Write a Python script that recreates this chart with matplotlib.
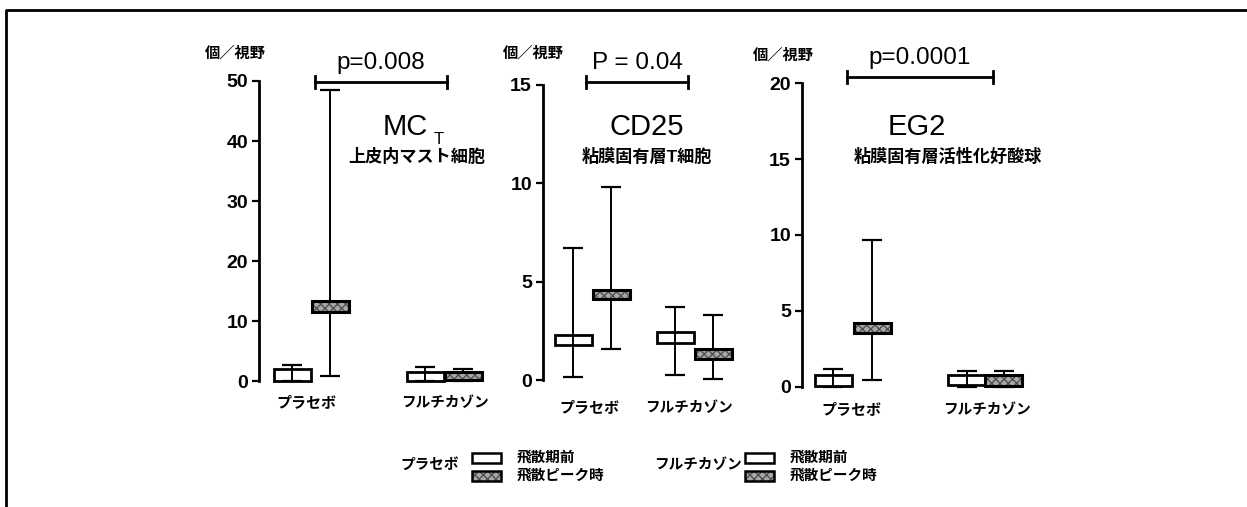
import matplotlib
matplotlib.use("Agg")
import matplotlib.pyplot as plt
from matplotlib.patches import Rectangle

plt.rcParams['font.family'] = ['Liberation Sans', 'Noto Sans CJK JP', 'DejaVu Sans']

# data: order = placebo pre, placebo peak, fluticasone pre, fluticasone peak
groups = ['プラセボ', 'フルチカゾン']
periods = ['飛散期前', '飛散ピーク時']

mct_lo = [0.0, 0.8, 0.0, 0.0]
mct_q1 = [0.0, 11.5, 0.0, 0.1]
mct_q3 = [2.0, 13.3, 1.5, 1.5]
mct_hi = [2.6, 48.5, 2.3, 2.0]

cd25_lo = [0.15, 1.6, 0.25, 0.05]
cd25_q1 = [1.8, 4.1, 1.9, 1.05]
cd25_q3 = [2.3, 4.6, 2.45, 1.6]
cd25_hi = [6.7, 9.8, 3.7, 3.3]

eg2_lo = [0.0, 0.45, 0.0, 0.0]
eg2_q1 = [0.05, 3.55, 0.1, 0.05]
eg2_q3 = [0.8, 4.2, 0.8, 0.75]
eg2_hi = [1.2, 9.7, 1.05, 1.05]

titles = ['MC', 'CD25', 'EG2']
subtitles = ['上皮内マスト細胞', '粘膜固有層T細胞', '粘膜固有層活性化好酸球']
pvalues = ['p=0.008', 'P = 0.04', 'p=0.0001']
yunit = '個／視野'

W, H = 1247, 507
fig = plt.figure(figsize=(W / 100, H / 100), dpi=100)

# overlay in pixel coords for frame, labels, legend
ov = fig.add_axes([0, 0, 1, 1])
ov.set_xlim(0, W)
ov.set_ylim(H, 0)
ov.axis('off')
ov.plot([6, 6, W], [H, 10, 10], color='black', lw=2)


def px_axes(left, top, width, bottom):
    return fig.add_axes([left / W, (H - bottom) / H, width / W, (bottom - top) / H])


def draw_box(ax, x, lo, q1, q3, hi, filled):
    bw, cw = 37, 20
    ax.vlines(x, lo, hi, color='black', lw=1.4, zorder=2)
    ax.hlines([lo, hi], x - cw / 2, x + cw / 2, color='black', lw=1.6, zorder=2)
    if filled:
        ax.add_patch(Rectangle((x - bw / 2, q1), bw, q3 - q1, facecolor='#a8a8a8',
                               edgecolor='#505050', hatch='xxxx', lw=0, zorder=3))
        ax.add_patch(Rectangle((x - bw / 2, q1), bw, q3 - q1, facecolor='none',
                               edgecolor='black', lw=2.2, zorder=4))
    else:
        ax.add_patch(Rectangle((x - bw / 2, q1), bw, q3 - q1, facecolor='none',
                               edgecolor='black', lw=2.0, zorder=4))


# (spine x, top px, width px, bottom px, ylim, ticks, box offsets, data)
panels = [
    (259, 78, 241, 393, (-2, 50.5), [0, 10, 20, 30, 40, 50], [33, 71, 166, 204],
     (mct_lo, mct_q1, mct_q3, mct_hi)),
    (543, 81, 210, 390, (-0.5, 15.2), [0, 5, 10, 15], [30, 68, 132, 170],
     (cd25_lo, cd25_q1, cd25_q3, cd25_hi)),
    (802, 80, 260, 396, (-0.6, 20.2), [0, 5, 10, 15, 20], [31, 70, 165, 202],
     (eg2_lo, eg2_q1, eg2_q3, eg2_hi)),
]

for left, top, width, bottom, ylim, ticks, offs, data in panels:
    ax = px_axes(left, top, width, bottom)
    ax.set_xlim(0, width)
    ax.set_ylim(*ylim)
    ax.patch.set_alpha(0)
    for s in ['top', 'right', 'bottom']:
        ax.spines[s].set_visible(False)
    ax.spines['left'].set_linewidth(2)
    ax.spines['left'].set_bounds(ticks[0], ticks[-1])
    ax.set_xticks([])
    ax.set_yticks(ticks)
    ax.tick_params(axis='y', length=5, width=1.6, labelsize=14, pad=3)
    for lab in ax.get_yticklabels():
        lab.set_fontweight('bold')
    lo, q1, q3, hi = data
    for i, x in enumerate(offs):
        draw_box(ax, x, lo[i], q1[i], q3[i], hi[i], filled=(i % 2 == 1))

# unit labels
for x, y in [(205, 53), (503, 53), (753, 55)]:
    ov.text(x, y, yunit, fontsize=11, fontweight='bold', ha='left', va='center')

# p-value brackets
for (x0, x1, y), p in zip([(315, 447, 82), (586, 688, 82), (847, 993, 77)], pvalues):
    ov.plot([x0, x1], [y, y], color='black', lw=2)
    ov.plot([x0, x0], [y - 6, y + 6], color='black', lw=2)
    ov.plot([x1, x1], [y - 6, y + 6], color='black', lw=2)
    ov.text((x0 + x1) / 2, y - 19, p, fontsize=17.5, ha='center', va='center')

# titles
ov.text(383, 127, titles[0], fontsize=21, ha='left', va='center')
ov.text(434, 140, 'T', fontsize=12, ha='left', va='center')
ov.text(647, 127, titles[1], fontsize=21, ha='center', va='center')
ov.text(917, 127, titles[2], fontsize=21, ha='center', va='center')
for (x, y), s in zip([(417, 156), (647, 156), (948, 156)], subtitles):
    ov.text(x, y, s, fontsize=12.3, fontweight='bold', ha='center', va='center')

# category labels
for (x1, x2, y) in [(306, 445, 403), (589, 689, 408), (851, 987, 410)]:
    ov.text(x1, y, groups[0], fontsize=10.8, fontweight='bold', ha='center', va='center')
    ov.text(x2, y, groups[1], fontsize=10.5, fontweight='bold', ha='center', va='center')

# legend
for gx, px_, tx, name in [(430, 472, 517, groups[0]), (698, 745, 790, groups[1])]:
    ov.text(gx, 465, name, fontsize=10.5, fontweight='bold', ha='center', va='center')
    ov.add_patch(Rectangle((px_, 453), 29, 10, facecolor='white', edgecolor='black', lw=1.8))
    ov.add_patch(Rectangle((px_, 471), 29, 10, facecolor='#a8a8a8', edgecolor='#505050',
                           hatch='xxxx', lw=0))
    ov.add_patch(Rectangle((px_, 471), 29, 10, facecolor='none', edgecolor='black', lw=1.8))
    ov.text(tx, 458, periods[0], fontsize=10.5, fontweight='bold', ha='left', va='center')
    ov.text(tx, 476, periods[1], fontsize=10.5, fontweight='bold', ha='left', va='center')

fig.savefig('out.png', dpi=100)
